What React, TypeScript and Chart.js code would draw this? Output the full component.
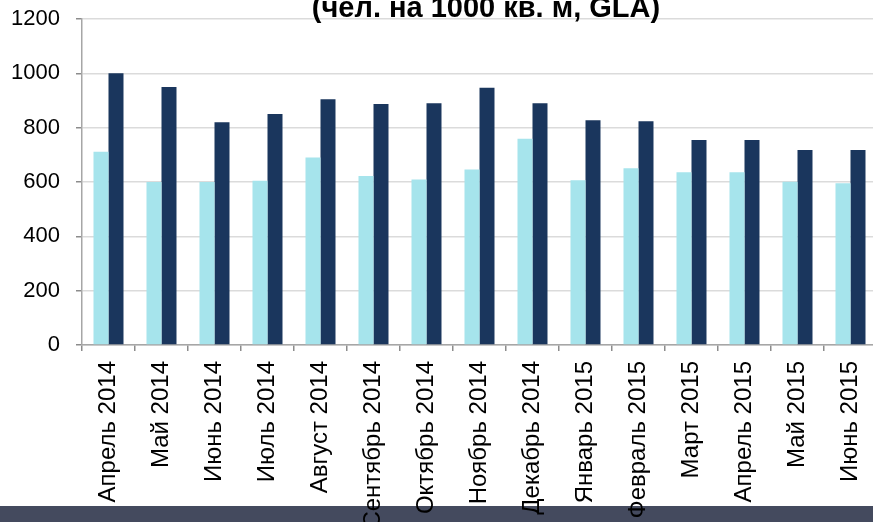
import React, { useEffect, useRef } from 'react';
import { Chart, registerables } from 'chart.js';

Chart.register(...registerables);

const TITLE = '(чел. на 1000 кв. м, GLA)';

const categories = [
  'Апрель 2014', 'Май 2014', 'Июнь 2014', 'Июль 2014', 'Август 2014',
  'Сентябрь 2014', 'Октябрь 2014', 'Ноябрь 2014', 'Декабрь 2014',
  'Январь 2015', 'Февраль 2015', 'Март 2015', 'Апрель 2015', 'Май 2015', 'Июнь 2015',
];

const seriesLight = [711, 600, 600, 605, 690, 622, 609, 646, 759, 606, 651, 636, 636, 601, 595];
const seriesDark = [1000, 950, 820, 850, 905, 887, 890, 947, 890, 827, 824, 755, 755, 718, 718];

const yMin = 0;
const yMax = 1200;
const yStep = 200;

const CANVAS_W = 880;
const CANVAS_H = 600;

const bandPlugin = {
  id: 'band',
  beforeDraw(chart: any) {
    const ctx = chart.ctx;
    ctx.save();
    ctx.fillStyle = '#444a5e';
    ctx.fillRect(0, 506, chart.width, chart.height - 506);
    ctx.restore();
  },
};

const titlePlugin = {
  id: 'topTitle',
  afterDraw(chart: any) {
    const ctx = chart.ctx;
    ctx.save();
    ctx.font = 'bold 29px "Liberation Sans", Arial, sans-serif';
    ctx.fillStyle = '#000000';
    ctx.textAlign = 'center';
    ctx.textBaseline = 'alphabetic';
    ctx.fillText(TITLE, 486, 17);
    ctx.restore();
  },
};

export default function App() {
  const ref = useRef<HTMLCanvasElement | null>(null);

  useEffect(() => {
    if (!ref.current) return;
    const chart = new Chart(ref.current, {
      type: 'bar',
      data: {
        labels: categories,
        datasets: [
          {
            label: 'light',
            data: seriesLight,
            backgroundColor: '#a6e4ec',
            borderWidth: 0,
            categoryPercentage: 0.566,
            barPercentage: 1,
          },
          {
            label: 'dark',
            data: seriesDark,
            backgroundColor: '#1a365d',
            borderWidth: 0,
            categoryPercentage: 0.566,
            barPercentage: 1,
          },
        ],
      },
      options: {
        animation: false,
        responsive: false,
        maintainAspectRatio: false,
        devicePixelRatio: 1,
        layout: { padding: { left: 0, right: 3, top: 19, bottom: 0 } },
        plugins: {
          legend: { display: false },
          title: { display: false },
          tooltip: { enabled: false },
        },
        scales: {
          x: {
            offset: true,
            grid: {
              offset: true,
              drawOnChartArea: false,
              drawTicks: true,
              tickLength: 6,
              color: '#8c8c8c',
              lineWidth: 1.5,
            },
            border: { display: true, color: '#a6a6a6', width: 1.5 },
            ticks: {
              minRotation: 90,
              maxRotation: 90,
              autoSkip: false,
              padding: 10,
              color: '#000000',
              font: { family: '"Liberation Sans", Arial, sans-serif', size: 24 },
            },
            afterFit(scale: any) {
              scale.height = CANVAS_H - 345;
              scale.paddingLeft = 0;
              scale.paddingRight = 0;
            },
          },
          y: {
            min: yMin,
            max: yMax,
            z: 1,
            grid: {
              color: 'rgba(0,0,0,0.14)',
              tickColor: '#8c8c8c',
              lineWidth: 1.5,
              tickLength: 6,
              drawTicks: true,
            },
            border: { display: true, color: '#a6a6a6', width: 1.5 },
            ticks: {
              stepSize: yStep,
              padding: 16,
              color: '#000000',
              font: { family: '"Liberation Sans", Arial, sans-serif', size: 22 },
              callback: (value: any) => String(value),
            },
            afterFit(scale: any) {
              scale.width = 82;
              scale.paddingTop = 0;
              scale.paddingBottom = 0;
            },
          },
        },
      },
      plugins: [bandPlugin, titlePlugin],
    });
    return () => chart.destroy();
  }, []);

  return (
    <div
      style={{
        position: 'fixed',
        left: 0,
        top: 0,
        width: 873,
        height: 522,
        overflow: 'hidden',
        background: '#ffffff',
      }}
    >
      <canvas
        ref={ref}
        width={CANVAS_W}
        height={CANVAS_H}
        style={{ position: 'absolute', left: 0, top: 0, width: CANVAS_W, height: CANVAS_H }}
      />
    </div>
  );
}
